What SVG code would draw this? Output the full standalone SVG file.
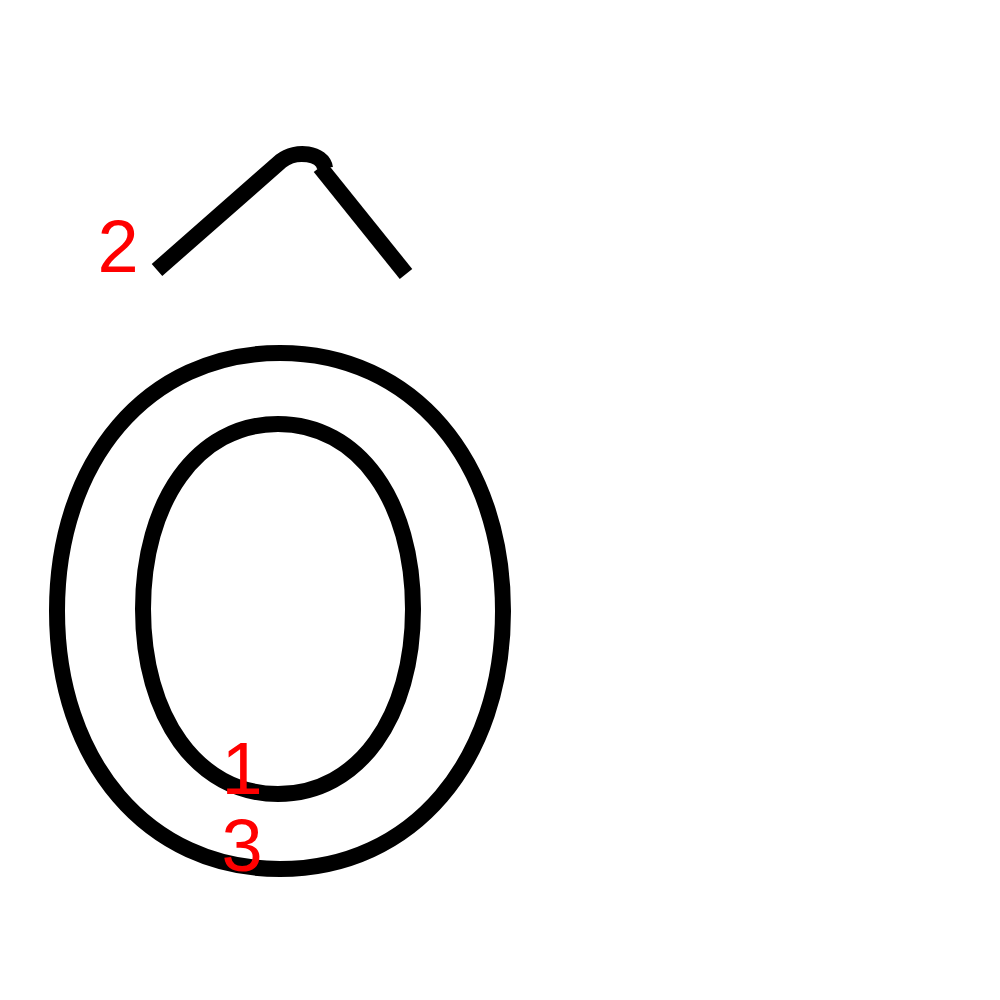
<svg xmlns="http://www.w3.org/2000/svg" width="1000" height="1000" viewBox="0 0 1000 1000">
<style>
.s{fill:none;stroke:#000;stroke-width:16;stroke-linecap:butt;stroke-linejoin:round}
.n{fill:#f00;font-family:"Liberation Sans",Arial,sans-serif;font-size:74px;text-anchor:middle}
</style>
<rect width="1000" height="1000" fill="#fff"/>
<g id="strokes">
<path id="stroke1" class="s" d="M 278 424 C 359 424, 413 501.7, 413 609 C 413 716.3, 359 794, 278 794 C 197 794, 143 716.3, 143 609 C 143 501.7, 197 424, 278 424 Z"/>
<path id="stroke2" class="s" d="M 157 270 L 281 161 C 296 149, 323 153, 325 168"/>
<path id="stroke2b" class="s" d="M 320 167 L 406 274"/>
<path id="stroke3" class="s" d="M 280 353 C 413 353, 503 461.4, 503 611 C 503 760.6, 413 869, 280 869 C 147 869, 57 760.6, 57 611 C 57 461.4, 147 353, 280 353 Z"/>
</g>
<g id="labels">
<text class="n" x="242" y="794">1</text>
<text class="n" x="118" y="272">2</text>
<text class="n" x="242" y="871">3</text>
</g>
</svg>
